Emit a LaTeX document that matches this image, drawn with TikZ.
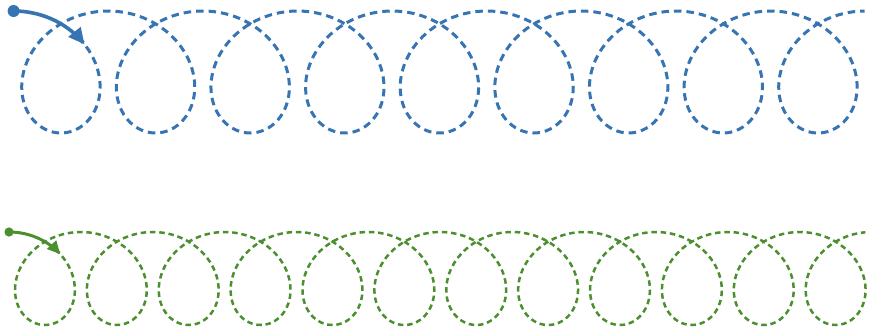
\documentclass[tikz,border=0pt]{standalone}
\usepackage{xcolor}
\usepackage{tikz}
\usetikzlibrary{arrows.meta}
\definecolor{loopblue}{HTML}{3774B2}
\definecolor{loopgreen}{HTML}{4B8F2E}

\begin{document}
\begin{tikzpicture}[x=1pt, y=-1pt,
    bluedash/.style={loopblue, line width=3pt, dash pattern=on 7.5pt off 5pt},
    greendash/.style={loopgreen, line width=2.5pt, dash pattern=on 5.5pt off 3.8pt}]
  \useasboundingbox (0,0) rectangle (870,333);

  % top row: large loops
  \coordinate (bluestart) at (13.6,11);
  \fill[loopblue] (bluestart) circle (6pt);
  \draw[loopblue, line width=3.6pt, -{Triangle[length=16pt, width=15pt]}]
    plot[domain=0:1.1, samples=40, variable=\t]
      ({13.6+15.06*\t+61*sin(\t r)}, {72-61*cos(\t r)});
  \draw[bluedash]
    plot[domain=1.14:56.55, samples=800, variable=\t]
      ({13.6+15.06*\t+61*sin(\t r)}, {72-61*cos(\t r)});

  % bottom row: small loops
  \coordinate (greenstart) at (9,232);
  \fill[loopgreen] (greenstart) circle (4.6pt);
  \draw[loopgreen, line width=3pt, -{Triangle[length=13pt, width=12pt]}]
    plot[domain=0:1.02, samples=40, variable=\t]
      ({9+11.44*\t+46.5*sin(\t r)}, {278.5-46.5*cos(\t r)});
  \draw[greendash]
    plot[domain=1.07:75.3, samples=1000, variable=\t]
      ({9+11.44*\t+46.5*sin(\t r)}, {278.5-46.5*cos(\t r)});
\end{tikzpicture}
\end{document}
